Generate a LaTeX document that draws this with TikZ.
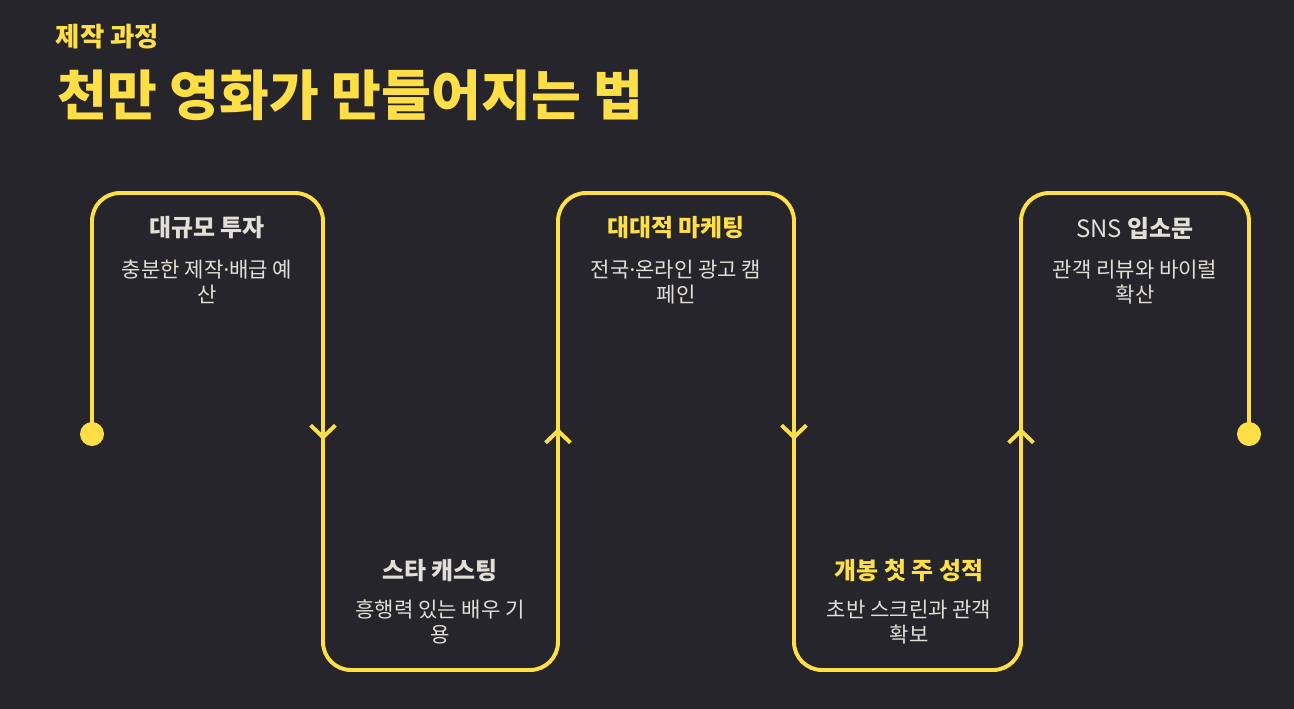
\documentclass[tikz,border=0pt]{standalone}
\usepackage{fontspec}
\setmainfont{Noto Sans CJK KR}
\newfontfamily\latinfont{Noto Sans}
\usepackage{xcolor}
\usetikzlibrary{arrows.meta}
\definecolor{bg}{HTML}{26252B}
\definecolor{gold}{HTML}{FFDF47}
\definecolor{ink}{HTML}{E2DFD7}
\newcommand{\middot}{{\latinfont ·}}

\begin{document}
\begin{tikzpicture}[
        x=0.025cm, y=-0.025cm,
        flow/.style={draw=gold, line width=2.8pt, rounded corners=0.7cm},
        chev/.style={draw=gold, line width=2.8pt,
                -{Straight Barb[length=0.3cm, width=0.62cm, line width=2.8pt]}},
        dot/.style={circle, fill=gold, inner sep=0pt, minimum size=0.6cm},
        head/.style={font=\fontsize{17}{20}\selectfont\bfseries, text=ink},
        sub/.style={font=\fontsize{15}{17.8}\selectfont, text=ink, align=center}
    ]
    \fill[bg] (0,0) rectangle (1294,709);

    \node[anchor=west, text=gold, font=\fontsize{18.8}{22}\selectfont\bfseries] (kicker) at (51,37) {제작 과정};
    \node[anchor=west, text=gold, font=\fontsize{38.5}{44}\selectfont\bfseries] (title) at (53,95) {천만 영화가 만들어지는 법};

    \coordinate (p0) at (92,434);
    \coordinate (p1) at (92,193);
    \coordinate (p2) at (323,193);
    \coordinate (p3) at (323,670);
    \coordinate (p4) at (558,670);
    \coordinate (p5) at (558,193);
    \coordinate (p6) at (794,193);
    \coordinate (p7) at (794,670);
    \coordinate (p8) at (1021,670);
    \coordinate (p9) at (1021,193);
    \coordinate (p10) at (1249,193);
    \coordinate (p11) at (1249,434);

    \coordinate (a1) at (323,440);
    \coordinate (a2) at (558,428);
    \coordinate (a3) at (794,440);
    \coordinate (a4) at (1021,428);

    \draw[flow] (p0) -- (p1) -- (p2) -- (p3) -- (p4) -- (p5) -- (p6) -- (p7) -- (p8) -- (p9) -- (p10) -- (p11);
    \node[dot] (start) at (p0) {};
    \node[dot] (end) at (p11) {};

    \draw[chev] (p2) ++(0,200) -- (a1);
    \draw[chev] (p4) ++(0,-200) -- (a2);
    \draw[chev] (p6) ++(0,200) -- (a3);
    \draw[chev] (p8) ++(0,-200) -- (a4);

    \node[head] (invest) at (207,228) {대규모 투자};
    \node[sub] (investtxt) at (207,282) {충분한 제작\middot 배급 예\\산};
    \node[head] (cast) at (440,571) {스타 캐스팅};
    \node[sub] (casttxt) at (440,622) {흥행력 있는 배우 기\\용};
    \node[head, text=gold] (market) at (676,228) {대대적 마케팅};
    \node[sub] (markettxt) at (676,282) {전국\middot 온라인 광고 캠\\페인};
    \node[head, text=gold] (opening) at (909,571) {개봉 첫 주 성적};
    \node[sub] (openingtxt) at (909,622) {초반 스크린과 관객\\확보};
    \node[head] (buzz) at (1135,228) {{\mdseries SNS} 입소문};
    \node[sub] (buzztxt) at (1135,282) {관객 리뷰와 바이럴\\확산};
\end{tikzpicture}
\end{document}
